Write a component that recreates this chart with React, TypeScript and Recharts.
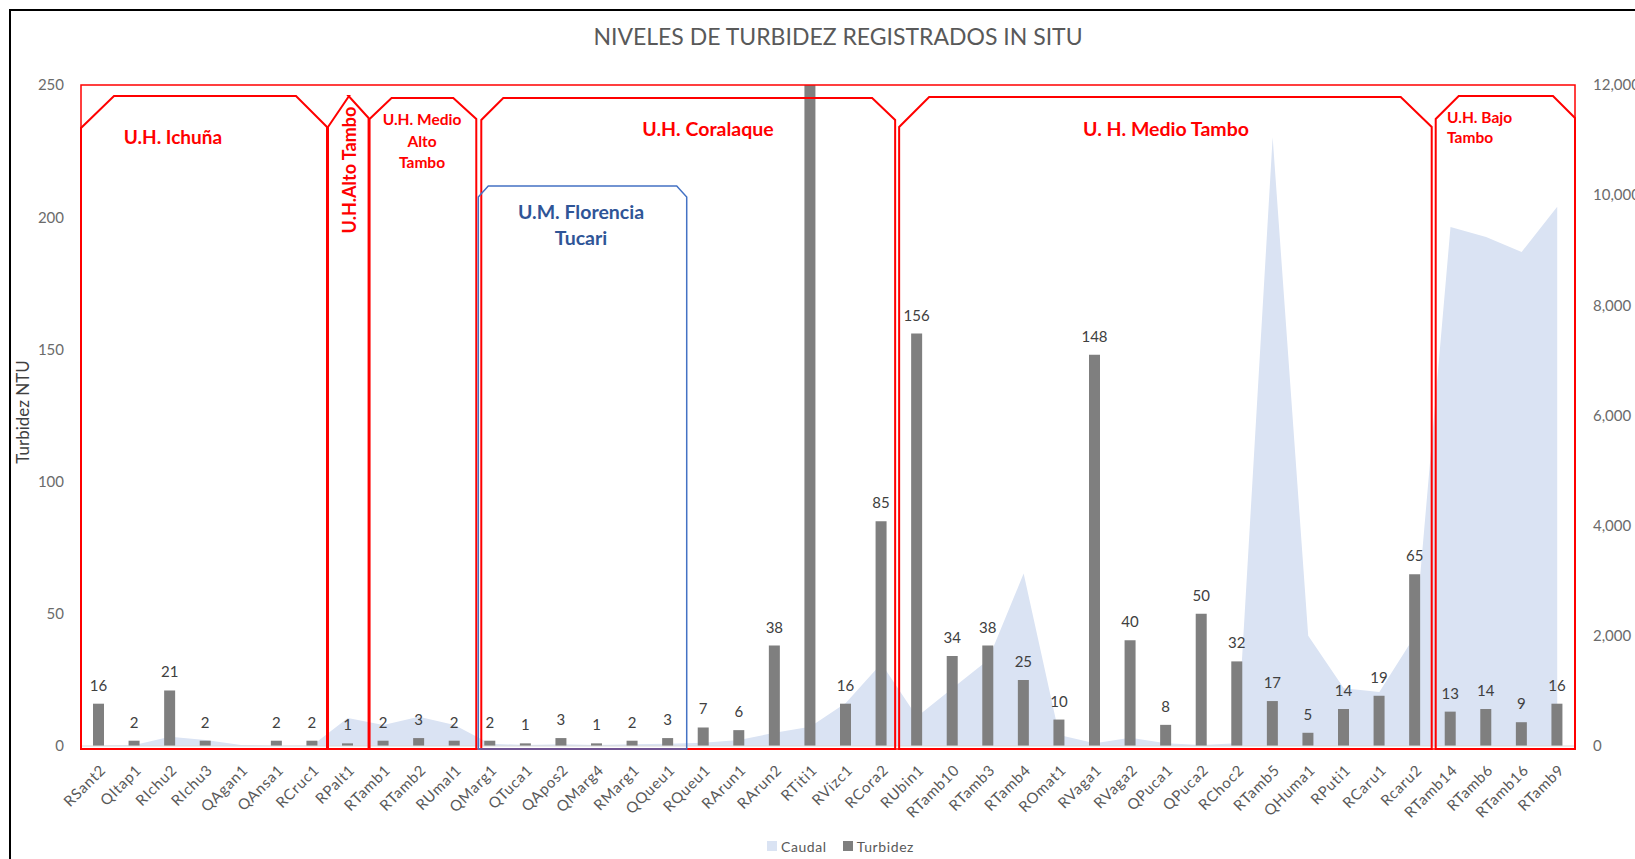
import { ComposedChart, Bar, Area, XAxis, YAxis, Legend, LabelList } from 'recharts';

const estaciones = [
  'RSant2', 'QItap1', 'RIchu2', 'RIchu3', 'QAgan1', 'QAnsa1', 'RCruc1', 'RPalt1', 'RTamb1', 'RTamb2',
  'RUmal1', 'QMarg1', 'QTuca1', 'QApos2', 'QMarg4', 'RMarg1', 'QQueu1', 'RQueu1', 'RArun1', 'RArun2',
  'RTiti1', 'RVizc1', 'RCora2', 'RUbin1', 'RTamb10', 'RTamb3', 'RTamb4', 'ROmat1', 'RVaga1', 'RVaga2',
  'QPuca1', 'QPuca2', 'RChoc2', 'RTamb5', 'QHuma1', 'RPuti1', 'RCaru1', 'Rcaru2', 'RTamb14', 'RTamb6',
  'RTamb16', 'RTamb9',
];

// NTU (RTiti1 se sale de la escala)
const turbidez = [
  16, 2, 21, 2, 0, 2, 2, 1, 2, 3,
  2, 2, 1, 3, 1, 2, 3, 7, 6, 38,
  290, 16, 85, 156, 34, 38, 25, 10, 148, 40,
  8, 50, 32, 17, 5, 14, 19, 65, 13, 14,
  9, 16,
];

const caudal = [
  10, 20, 170, 110, 20, 5, 10, 510, 380, 530,
  380, 40, 20, 30, 20, 30, 40, 60, 110, 240,
  350, 780, 1500, 530, 1050, 1560, 3130, 200, 50, 150,
  50, 20, 50, 11050, 2000, 1050, 980, 2000, 9420, 9240,
  8970, 9790,
];

const turbidezTicks = [0, 50, 100, 150, 200, 250];
const caudalTicks = [0, 2000, 4000, 6000, 8000, 10000, 12000];

const data = estaciones.map((estacion, i) => ({ estacion, turbidez: turbidez[i], caudal: caudal[i] }));

const W = 1635;
const H = 859;
const PLOT_LEFT = 81;
const PLOT_RIGHT = 1575;
const PLOT_TOP = 85;
const BAND = (PLOT_RIGHT - PLOT_LEFT) / estaciones.length;
const band = (i: number) => PLOT_LEFT + i * BAND;
const FONT = "Lato, 'Open Sans', sans-serif";

const RED = '#ff0000';
const BLUE = '#4472c4';

// recuadros de unidades hidrográficas
const cuadros = [
  { xL: band(0), xR: band(7) - 3, top: 96, cl: 33, chl: 32, cr: 31, chr: 31, color: RED },
  { xL: band(7) - 2, xR: band(8) + 3, top: 96, cl: 21, chl: 31, cr: 20, chr: 22, color: RED },
  { xL: band(8) + 4, xR: band(11) + 4, top: 98, cl: 22, chl: 21, cr: 23, chr: 21, color: RED },
  { xL: band(11) + 9, xR: band(23) - 4, top: 98, cl: 22, chl: 22, cr: 23, chr: 22, color: RED },
  { xL: band(23), xR: band(38) - 1, top: 97, cl: 30, chl: 30, cr: 31, chr: 30, color: RED },
  { xL: band(38) + 3, xR: band(42), top: 96, cl: 23, chl: 23, cr: 22, chr: 22, color: RED },
  { xL: band(11) + 6, xR: band(17) + 1, top: 186, cl: 10, chl: 11, cr: 10, chr: 11, color: BLUE },
];

const BOTTOM = 749;

const boxPath = (b: any) =>
  `M${b.xL},${BOTTOM} L${b.xL},${b.top + b.chl} L${b.xL + b.cl},${b.top} L${b.xR - b.cr},${b.top} L${b.xR},${b.top + b.chr} L${b.xR},${BOTTOM} Z`;

const EstacionTick = ({ x, y, payload }: any) => (
  <g transform={`translate(${x + 8},${y + 23})`}>
    <text textAnchor="end" transform="rotate(-45)" fontSize={15} letterSpacing={0.8} fill="#595959" fontFamily={FONT}>
      {payload.value}
    </text>
  </g>
);

const ValorLabel = ({ x, y, width, value }: any) => {
  if (value > 250) return null;
  return (
    <text x={x + width / 2} y={y - 13} textAnchor="middle" fontSize={15} fill="#404040" fontFamily={FONT}>
      {value}
    </text>
  );
};

const Leyenda = () => (
  <div
    style={{
      height: 20,
      display: 'flex',
      justifyContent: 'center',
      alignItems: 'center',
      gap: 16,
      paddingLeft: 46,
      fontFamily: FONT,
      fontSize: 14,
      color: '#595959',
      letterSpacing: 0.6,
    }}
  >
    <span style={{ display: 'flex', alignItems: 'center', gap: 4 }}>
      <span style={{ width: 10, height: 10, background: '#dae3f3', display: 'inline-block' }} />
      Caudal
    </span>
    <span style={{ display: 'flex', alignItems: 'center', gap: 4 }}>
      <span style={{ width: 10, height: 10, background: '#7f7f7f', display: 'inline-block' }} />
      Turbidez
    </span>
  </div>
);

export default function App() {
  return (
    <div style={{ position: 'absolute', left: 0, top: 0, width: W, height: H, overflow: 'hidden', background: '#fff', fontFamily: FONT }}>
      <div style={{ position: 'absolute', left: 9, top: 9, width: W, height: H, border: '2px solid #000' }} />
      <div style={{ position: 'absolute', left: 0, top: 0 }}>
        <ComposedChart width={W} height={H} data={data} margin={{ top: PLOT_TOP, right: 0, bottom: 3, left: 0 }} barSize={11}>
          <XAxis
            dataKey="estacion"
            interval={0}
            height={90}
            tickLine={false}
            tickSize={0}
            tick={<EstacionTick />}
            axisLine={{ stroke: '#d9d9d9' }}
          />
          <YAxis
            yAxisId="left"
            domain={[0, 250]}
            ticks={turbidezTicks}
            allowDataOverflow
            width={81}
            axisLine={false}
            tickLine={false}
            tickSize={0}
            tickMargin={17}
            tick={{ fontSize: 15, fill: '#6b6b6b', fontFamily: FONT }}
          />
          <YAxis
            yAxisId="right"
            orientation="right"
            domain={[0, 12000]}
            ticks={caudalTicks}
            width={60}
            axisLine={false}
            tickLine={false}
            tickSize={0}
            tickMargin={18}
            tickFormatter={(v: number) => v.toLocaleString('en-US')}
            tick={{ fontSize: 15, fill: '#6b6b6b', fontFamily: FONT, textAnchor: 'start' }}
          />
          <Area
            yAxisId="right"
            type="linear"
            dataKey="caudal"
            name="Caudal"
            fill="#dae3f3"
            fillOpacity={1}
            stroke="none"
            dot={false}
            activeDot={false}
            isAnimationActive={false}
          />
          <Bar yAxisId="left" dataKey="turbidez" name="Turbidez" fill="#7f7f7f" isAnimationActive={false}>
            <LabelList dataKey="turbidez" content={<ValorLabel />} />
          </Bar>
          <Legend verticalAlign="bottom" align="center" content={<Leyenda />} />
        </ComposedChart>
      </div>
      <svg width={W} height={H} style={{ position: 'absolute', left: 0, top: 0, pointerEvents: 'none' }}>
        <text x={838} y={45} textAnchor="middle" fontSize={23} fill="#595959" fontFamily={FONT}>
          NIVELES DE TURBIDEZ REGISTRADOS IN SITU
        </text>
        <text
          x={22}
          y={412}
          transform="rotate(-90 22 412)"
          textAnchor="middle"
          dominantBaseline="central"
          fontSize={17}
          fill="#404040"
          fontFamily={FONT}
        >
          Turbidez NTU
        </text>
        <rect x={PLOT_LEFT} y={PLOT_TOP} width={PLOT_RIGHT - PLOT_LEFT} height={BOTTOM - PLOT_TOP} fill="none" stroke={RED} strokeWidth={1.5} />
        {cuadros.map((b, i) => (
          <path key={i} d={boxPath(b)} fill="none" stroke={b.color} strokeWidth={b.color === BLUE ? 1.5 : 2} />
        ))}
        <g fontFamily={FONT} fill={RED} fontWeight={700}>
          <text x={173} y={144} textAnchor="middle" fontSize={19}>U.H. Ichuña</text>
          <text x={349} y={170} textAnchor="middle" dominantBaseline="central" fontSize={18} transform="rotate(-90 349 170)">
            U.H.Alto Tambo
          </text>
          <text x={422} y={125} textAnchor="middle" fontSize={15.5}>U.H. Medio</text>
          <text x={422} y={147} textAnchor="middle" fontSize={15.5}>Alto</text>
          <text x={422} y={168} textAnchor="middle" fontSize={15.5}>Tambo</text>
          <text x={708} y={136} textAnchor="middle" fontSize={19.5}>U.H. Coralaque</text>
          <text x={1166} y={136} textAnchor="middle" fontSize={19.5}>U. H. Medio Tambo</text>
          <text x={1447} y={123} fontSize={15.5}>U.H. Bajo</text>
          <text x={1447} y={143} fontSize={15.5}>Tambo</text>
        </g>
        <g fontFamily={FONT} fill="#2f5597" fontWeight={700}>
          <text x={581} y={219} textAnchor="middle" fontSize={19.5}>U.M. Florencia</text>
          <text x={581} y={245} textAnchor="middle" fontSize={19.5}>Tucari</text>
        </g>
      </svg>
    </div>
  );
}
